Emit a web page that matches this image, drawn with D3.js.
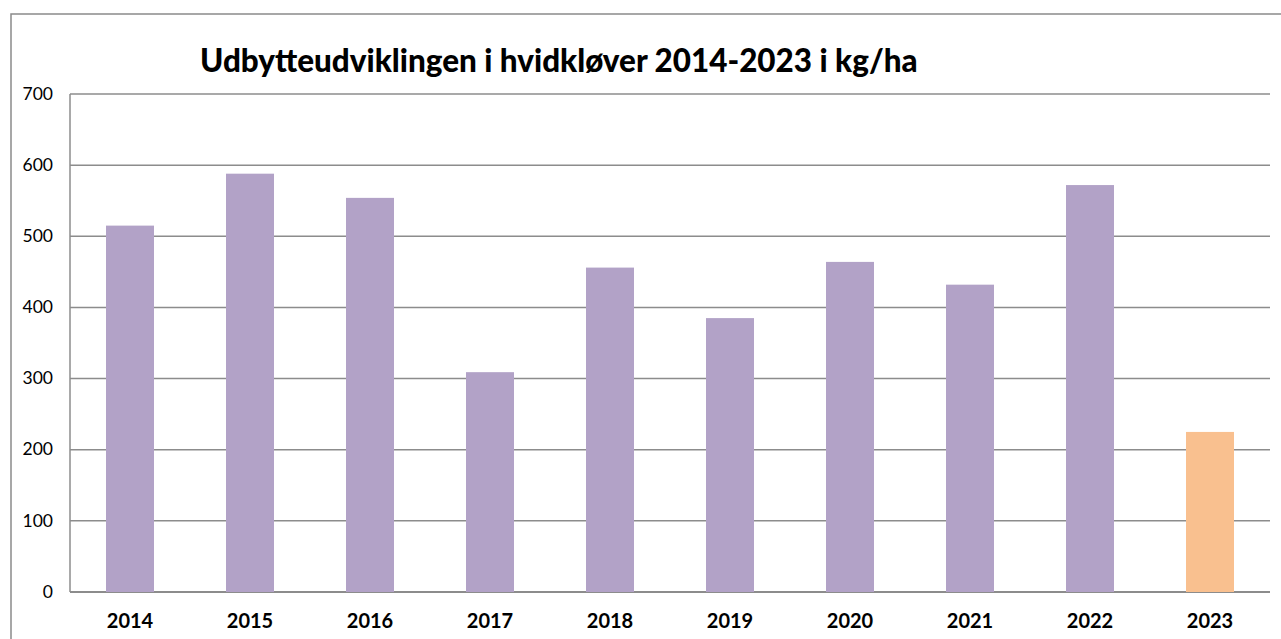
<!DOCTYPE html>
<html>
<head>
<meta charset="utf-8">
<script src="https://cdn.jsdelivr.net/npm/d3@7"></script>
<style>
  body { margin: 0; background: #fff; }
  svg { display: block; }
  text { font-family: Lato, "Open Sans", sans-serif; fill: #000; }
</style>
</head>
<body>
<svg class="chart" width="1281" height="639"></svg>
<script>
// yield of white clover, kg/ha
var years = ["2014", "2015", "2016", "2017", "2018", "2019", "2020", "2021", "2022", "2023"];
var yields = [515, 588, 554, 309, 456, 385, 464, 432, 572, 225];
var yTicks = [0, 100, 200, 300, 400, 500, 600, 700];
var title = "Udbytteudviklingen i hvidkløver 2014-2023 i kg/ha";

var svg = d3.select("svg.chart"),
    width = +svg.attr("width"),
    height = +svg.attr("height");

var plot = { left: 70, right: 1270, top: 94, bottom: 592 };

// outer frame (runs off the right and bottom edges)
svg.append("rect")
    .attr("x", 11).attr("y", 14)
    .attr("width", width + 20).attr("height", height + 20)
    .attr("fill", "none")
    .attr("stroke", "#8a8a8a")
    .attr("stroke-width", 1.5);

var x = d3.scaleBand()
    .domain(years)
    .range([plot.left, plot.right])
    .paddingInner(0.6)
    .paddingOuter(0.3);

var y = d3.scaleLinear()
    .domain([0, 700])
    .range([plot.bottom, plot.top]);

// gridlines
svg.append("g")
    .selectAll("line")
    .data(yTicks)
    .enter().append("line")
      .attr("x1", plot.left).attr("x2", plot.right)
      .attr("y1", function(d) { return y(d); })
      .attr("y2", function(d) { return y(d); })
      .attr("stroke", "#8c8c8c")
      .attr("stroke-width", function(d) { return d === 0 ? 2 : 1.5; });

// y axis line
svg.append("line")
    .attr("x1", plot.left).attr("x2", plot.left)
    .attr("y1", plot.top).attr("y2", plot.bottom)
    .attr("stroke", "#8c8c8c")
    .attr("stroke-width", 1.5);

// y labels
var yAxis = svg.append("g")
    .attr("transform", "translate(" + (plot.left - 17) + ",0)")
    .call(d3.axisLeft(y).tickValues(yTicks).tickSize(0).tickPadding(0));
yAxis.select(".domain").remove();
yAxis.selectAll("text")
    .style("font-family", "Lato, sans-serif")
    .style("font-size", "17.5px")
    .attr("dy", "0.3em")
    .attr("fill", "#000");

// bars
svg.append("g")
    .selectAll("rect")
    .data(years)
    .enter().append("rect")
      .attr("x", function(d) { return x(d); })
      .attr("y", function(d, i) { return y(yields[i]); })
      .attr("width", x.bandwidth())
      .attr("height", function(d, i) { return y(0) - y(yields[i]); })
      .attr("fill", function(d) { return d === "2023" ? "#f9c08f" : "#b2a2c7"; });

// x labels
var xAxis = svg.append("g")
    .attr("transform", "translate(0," + (plot.bottom + 22) + ")")
    .call(d3.axisBottom(x).tickSize(0).tickPadding(0));
xAxis.select(".domain").remove();
xAxis.selectAll("text")
    .style("font-family", "Lato, sans-serif")
    .style("font-size", "20px")
    .style("font-weight", "bold")
    .attr("fill", "#000");

// title, sized to span the same width as the original
var t = svg.append("text")
    .attr("x", 200)
    .attr("y", 72)
    .style("font-size", "26px")
    .style("font-weight", "900")
    .text(title);
var w = t.node().getComputedTextLength();
t.style("font-size", (26 * 718 / w) + "px");
</script>
</body>
</html>
